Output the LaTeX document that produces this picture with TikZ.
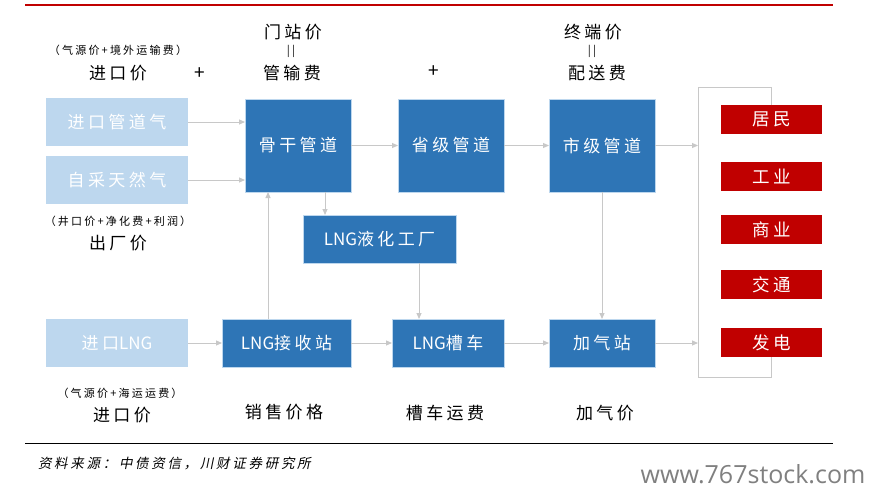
\documentclass[tikz,border=0pt]{standalone}
\usepackage{fontspec}
\setmainfont{Noto Sans CJK SC}[LetterSpace=20]
\newfontfamily\slantfont{Noto Sans CJK SC}[FakeSlant=0.2,LetterSpace=20]
\newfontfamily\plainfont{Noto Sans CJK SC}
\newfontfamily\webfont{Open Sans}
\newcommand{\lngword}{{\plainfont LNG}}
\usetikzlibrary{positioning,arrows.meta}
\definecolor{lightblue}{HTML}{BDD7EE}
\definecolor{darkblue}{HTML}{2E75B6}
\definecolor{userred}{HTML}{C00000}
\definecolor{linegray}{HTML}{C8C8C8}
\begin{document}
\begin{tikzpicture}[x=1pt, y=-1pt, node distance=45pt,
    every node/.style={inner sep=0pt, outer sep=0pt},
    srcbox/.style={fill=lightblue, text=white, minimum width=142pt, minimum height=48pt, font=\fontsize{17}{17}\selectfont},
    pipebox/.style={fill=darkblue, draw=lightblue, line width=0.6pt, text=white, minimum width=106pt, minimum height=93pt, font=\fontsize{17}{17}\selectfont},
    lngbox/.style={pipebox, minimum height=48pt},
    userbox/.style={fill=userred, text=white, minimum width=101pt, minimum height=29pt, font=\fontsize{17.5}{17.5}\selectfont},
    price/.style={font=\fontsize{17}{17}\selectfont},
    note/.style={font=\fontsize{11}{11}\selectfont},
    plus/.style={font=\plainfont\fontsize{19}{19}\selectfont},
    flow/.style={draw=linegray, line width=1pt, -{Triangle[length=6pt,width=5pt]}},
    link/.style={draw=linegray, line width=1pt}]
    \useasboundingbox[fill=white] (0,0) rectangle (883,495);

    % rules
    \draw[userred, line width=1.5pt] (25,5) -- (833,5);
    \draw[black, line width=1pt] (25,443) -- (833,443);

    % sources
    \node[srcbox] (pipein) at (117,122) {进口管道气};
    \node[srcbox] (selfgas) at (117,180) {自采天然气};
    \node[srcbox] (lngin) at (117,343) {进口\lngword};

    % pipelines
    \node[pipebox] (trunk) at (298,145.5) {骨干管道};
    \node[pipebox, right=47pt of trunk] (prov) {省级管道};
    \node[pipebox, right=of prov] (city) {市级管道};
    \node[lngbox, minimum width=153pt] (plant) at (379.5,239) {\lngword 液化工厂};

    % LNG chain
    \node[lngbox, minimum width=129pt] (terminal) at (286.5,343) {\lngword 接收站};
    \node[lngbox, minimum width=112pt, right=41pt of terminal] (tanker) {\lngword 槽车};
    \node[lngbox, right=of tanker] (station) {加气站};

    % users
    \node[userbox] (home) at (771.5,119.5) {居民};
    \node[userbox, below=28pt of home] (industry) {工业};
    \node[userbox, below=24pt of industry] (commerce) {商业};
    \node[userbox, below=26pt of commerce] (traffic) {交通};
    \node[userbox, below=29pt of traffic] (power) {发电};
    \coordinate (bustop) at (698,87);
    \coordinate (busbot) at (698,377);

    % price labels
    \node[note] (srcnote) at (118,50) {（气源价+境外运输费）};
    \node[price] (impprice) at (118,73) {进口价};
    \node[plus] (plusa) at (200,74) {+};
    \node[price] (gateprice) at (293,32) {门站价};
    \node[note] (eqa) at (291,51) {||};
    \node[price] (transfee) at (292,73) {管输费};
    \node[plus] (plusb) at (434,72) {+};
    \node[price] (endprice) at (593,32) {终端价};
    \node[note] (eqb) at (592,51) {||};
    \node[price] (distfee) at (597,73) {配送费};
    \node[note] (wellnote) at (118,221) {（井口价+净化费+利润）};
    \node[price] (exprice) at (118,243) {出厂价};
    \node[note] (seanote) at (120,393) {（气源价+海运运费）};
    \node[price] (lngprice) at (122,415) {进口价};
    \node[price] (saleprice) at (284,412) {销售价格};
    \node[price] (tankerfee) at (445,413) {槽车运费};
    \node[price] (fillprice) at (605,413) {加气价};

    \node[anchor=west, font=\slantfont\fontsize{13.5}{13.5}\selectfont] (credit) at (38,463) {资料来源：中债资信，川财证券研究所};
    \node[text=gray, font=\webfont\fontsize{25}{25}\selectfont] (site) at (753,474) {www.767stock.com};

    % connectors
    \draw[flow] (pipein.east) -- (pipein.east -| trunk.west);
    \draw[flow] (selfgas.east) -- (selfgas.east -| trunk.west);
    \draw[flow] (trunk) -- (prov);
    \draw[flow] (prov) -- (city);
    \draw[flow] (city.east) -- (city.east -| bustop);
    \draw[flow] ([xshift=27pt]trunk.south) -- ([xshift=27pt]trunk.south |- plant.north);
    \draw[flow] ([xshift=-30pt]trunk.south |- terminal.north) -- ([xshift=-30pt]trunk.south);
    \draw[flow] ([xshift=-29pt]tanker.north |- plant.south) -- ([xshift=-29pt]tanker.north);
    \draw[flow] (city) -- (station);
    \draw[flow] (lngin) -- (terminal);
    \draw[flow] (terminal) -- (tanker);
    \draw[flow] (tanker) -- (station);
    \draw[flow] (station.east) -- (station.east -| bustop);
    \draw[link] (home.north) |- (bustop) -- (busbot) -| (power.south);
\end{tikzpicture}
\end{document}
